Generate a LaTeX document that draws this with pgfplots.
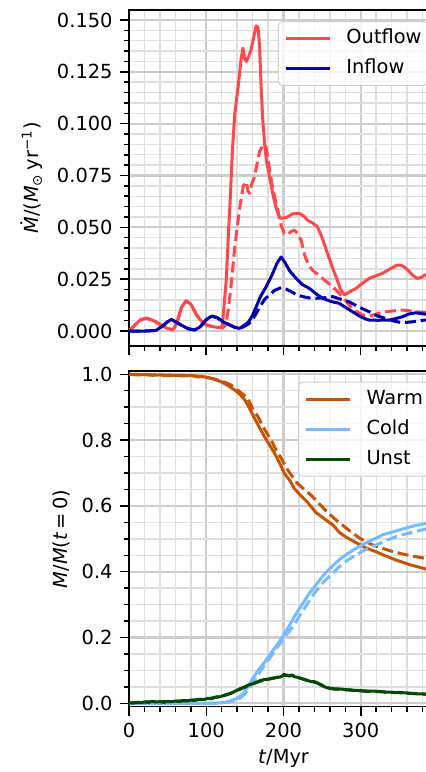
\documentclass[border=0pt]{standalone}
\usepackage{fontspec}
\setmainfont{DejaVu Sans}
\usepackage{pgfplots}
\pgfplotsset{compat=1.18}

\definecolor{outc}{HTML}{FF474C}
\definecolor{inc}{HTML}{0504AA}
\definecolor{warmc}{HTML}{C45508}
\definecolor{coldc}{HTML}{75BBFD}
\definecolor{unstc}{HTML}{054907}
\definecolor{gridmaj}{HTML}{CDCDCD}
\definecolor{gridmin}{HTML}{DEDEDE}
\definecolor{legedge}{HTML}{D0D0D0}

\newcommand\fs{\fontsize{9.7}{11.6}\selectfont}

\pgfplotsset{
  panel/.style={
    scale only axis, width=154.5pt,
    xmin=0, xmax=400,
    axis line style={line width=0.75pt},
    tick align=outside, xtick pos=bottom, ytick pos=left,
    major tick length=4.7pt, minor tick length=2.6pt,
    tick style={black, line width=0.75pt},
    grid=both,
    major grid style={color=gridmaj, line width=1.1pt},
    minor grid style={color=gridmin, line width=0.7pt},
    xtick={0,100,200,300},
    minor xtick={20,40,60,80,120,140,160,180,220,240,260,280,320,340,360,380},
    tick label style={font=\fs},
    /pgf/number format/assume math mode=true,
    label style={font=\fs},
    legend cell align=left,
    legend style={anchor=north west, draw=legedge, line width=0.5pt,
      rounded corners=2pt, fill=white, fill opacity=0.8, text opacity=1,
      draw opacity=1, font=\fs, inner xsep=3pt, inner ysep=3.8pt, row sep=5.7pt,
      nodes={inner sep=0pt, text height=7.3pt, text depth=2pt}},
    legend image code/.code={\draw[#1] (0pt,0pt) -- (22pt,0pt); \path (29.5pt,0pt);},
  },
  sol/.style={line width=1.5pt, line join=round},
  dsh/.style={line width=1.5pt, line join=round, dash pattern=on 5.5pt off 2.4pt, forget plot},
}

\begin{document}
\begin{tikzpicture}
\useasboundingbox (0,0) rectangle (213pt,386pt);
\clip (0,0) rectangle (213pt,386pt);

% mass flow rates
\begin{axis}[panel, height=168pt, at={(64.5pt,213pt)}, anchor=south west,
  ymin=-0.0072, ymax=0.1548,
  ytick={0,0.025,0.05,0.075,0.1,0.125,0.15},
  yticklabels={0.000,0.025,0.050,0.075,0.100,0.125,0.150},
  minor y tick num=4, xticklabels={},
  ylabel={\textit{Ṁ}/(\textit{M}\textsubscript{⊙}\,yr\textsuperscript{−1})},
  ylabel style={at={(axis description cs:-0.314,0.5)}, anchor=center},
  legend style={at={(axis description cs:0.482,0.967)}},
]
\addplot[sol, outc] coordinates {
(0,0) (8,0.003) (15,0.0055) (23,0.0062) (32,0.005) (42,0.0028) (50,0.0012)
(57,0.0006) (62,0.004) (68,0.0115) (74,0.0146) (80,0.013) (88,0.0075)
(96,0.0037) (104,0.0025) (113,0.0018) (119,0.0018) (121,0.003) (123,0.012)
(126,0.025) (129,0.049) (131,0.063) (134,0.088) (137,0.105) (141,0.117)
(145,0.1307) (147.5,0.1364) (150,0.131) (152,0.130) (155,0.1325) (158,0.1355)
(161,0.141) (164.7,0.1471) (167,0.1465) (169,0.138) (171,0.118) (173,0.103)
(175.5,0.0905) (178,0.082) (182,0.0744) (186,0.0664) (190,0.060) (195,0.0544)
(199,0.0544) (205,0.055) (212,0.0565) (220,0.0568) (226,0.0555) (231,0.0535)
(238,0.052) (244,0.0503) (250,0.045) (257,0.0375) (263,0.031) (268,0.0262)
(274,0.020) (279,0.0174) (286,0.019) (294,0.0206) (302,0.023) (311,0.0254)
(320,0.0267) (328,0.0278) (338,0.030) (347,0.0318) (352,0.0317) (356,0.031)
(362,0.029) (367,0.027) (373,0.0254) (378,0.0258) (383,0.027) (392,0.028) (400,0.028)
};
\addlegendentry{Outflow}
\addplot[dsh, outc] coordinates {
(0,0) (8,0.003) (15,0.0055) (23,0.0062) (32,0.005) (42,0.0028) (50,0.0012)
(57,0.0006) (62,0.004) (68,0.0115) (74,0.0146) (80,0.013) (88,0.0075)
(96,0.0037) (104,0.0025) (113,0.0018) (121,0.0015) (125,0.003) (128,0.009)
(131,0.018) (133,0.025) (136,0.037) (140,0.050) (144,0.061) (148,0.070)
(151.8,0.072) (154,0.0675) (156,0.0664) (159,0.071) (162.6,0.0744) (166,0.081)
(169,0.0865) (173,0.0893) (176.8,0.0897) (179,0.085) (182,0.0777) (185,0.071)
(188.4,0.0648) (192.7,0.058) (197,0.051) (201,0.047) (205,0.0465) (210,0.048)
(214,0.0487) (218,0.047) (222.8,0.0439) (227,0.037) (231.4,0.0327) (236,0.030)
(240,0.0286) (247,0.0265) (253,0.0246) (263.6,0.0214) (270,0.019) (276.5,0.0165)
(285,0.0125) (294,0.0095) (302,0.0078) (311,0.0072) (320,0.0082) (332,0.0093)
(344,0.0098) (354,0.0101) (362,0.0098) (371,0.0093) (383,0.009) (400,0.009)
};
\addplot[sol, inc] coordinates {
(0,0) (20,0) (35,0.0003) (42,0.002) (50,0.0045) (55,0.0056) (60,0.0045)
(68,0.0028) (76,0.0012) (85,0.0005) (92,0.002) (100,0.0055) (107,0.0072)
(114,0.0065) (121.7,0.0045) (130,0.003) (137,0.0018) (143,0.0013) (148,0.0025)
(155,0.0045) (160,0.0077) (165,0.012) (170,0.0165) (177.6,0.0214) (185,0.027)
(192,0.033) (197,0.0357) (202,0.033) (208,0.029) (216.4,0.0254) (224,0.0225)
(233.5,0.0206) (242,0.018) (250.7,0.0158) (262,0.0142) (272,0.0134) (280,0.0115)
(289.4,0.0093) (298,0.0073) (305,0.006) (311,0.0053) (322,0.0052) (336.8,0.0053)
(345,0.006) (354,0.0069) (362,0.0082) (371,0.0088) (383,0.0082) (400,0.008)
};
\addlegendentry{Inflow}
\addplot[dsh, inc] coordinates {
(0,0) (20,0) (35,0.0003) (42,0.002) (50,0.0045) (55,0.0056) (60,0.0045)
(68,0.0028) (76,0.0012) (85,0.0005) (92,0.002) (100,0.0055) (107,0.0072)
(114,0.0065) (121.7,0.0045) (130,0.003) (137,0.0018) (143,0.0013) (148,0.002)
(155,0.0035) (160,0.0055) (164.7,0.0085) (170,0.012) (176,0.0155) (182,0.0174)
(188,0.0195) (197,0.021) (203,0.0203) (210,0.019) (217,0.0175) (225,0.0166)
(233,0.016) (242,0.0158) (252,0.016) (263.6,0.0166) (272,0.0156) (285,0.0141)
(298,0.0115) (311,0.0093) (322,0.0072) (332.5,0.0061) (343,0.0048) (354,0.004)
(368,0.0045) (383,0.0053) (400,0.0055)
};
\end{axis}

% gas phase mass fractions
\begin{axis}[panel, height=167.85pt, at={(64.5pt,32.65pt)}, anchor=south west,
  ymin=-0.0103, ymax=1.0100,
  ytick={0,0.2,0.4,0.6,0.8,1.0},
  yticklabels={0.0,0.2,0.4,0.6,0.8,1.0},
  minor y tick num=3,
  xticklabels={0,100,200,300},
  xlabel={\textit{t}/Myr},
  xlabel style={at={(axis description cs:0.5,-0.153)}, anchor=center},
  ylabel={\textit{M}/\textit{M}(\textit{t}\,=\,0)},
  ylabel style={at={(axis description cs:-0.22,0.5)}, anchor=center},
  legend style={at={(axis description cs:0.547,0.968)}},
]
\addplot[sol, warmc] coordinates {
(0,1.0) (10,0.998) (20,0.999) (30,0.997) (40,0.998) (50,0.996) (60,0.997)
(70,0.995) (81,0.996) (90,0.992) (95,0.993) (102,0.99) (110,0.985)
(119.6,0.977) (128,0.966) (137,0.952) (144,0.938) (150,0.922) (156,0.897)
(162.6,0.866) (169,0.838) (175.5,0.81) (182,0.785) (188.4,0.76) (195,0.73)
(201,0.699) (207.7,0.679) (214,0.653) (222,0.632) (231.4,0.61) (242,0.58)
(255,0.557) (265,0.54) (272,0.52) (281,0.505) (298,0.483) (308,0.471)
(319.6,0.461) (330,0.45) (345,0.436) (362.6,0.422) (383,0.409) (400,0.4)
};
\addlegendentry{Warm}
\addplot[dsh, warmc] coordinates {
(0,1.0) (20,0.999) (40,0.998) (60,0.997) (81,0.996) (95,0.993) (102,0.99)
(110,0.986) (118,0.98) (125,0.975) (132.5,0.967) (140,0.953) (147,0.94)
(154,0.927) (160,0.895) (167,0.871) (175,0.835) (184,0.80) (190,0.772)
(197,0.745) (203,0.718) (210,0.694) (218,0.668) (227,0.65) (236,0.632)
(245,0.61) (255,0.585) (268,0.557) (280,0.535) (289.4,0.517) (298,0.503)
(306.7,0.491) (317,0.48) (328,0.471) (340,0.462) (354,0.454) (368,0.447)
(383,0.441) (400,0.436)
};
\addplot[sol, coldc] coordinates {
(0,0) (100,0.0) (115,0.001) (124,0.003) (132,0.008) (141,0.016) (148,0.03)
(154,0.05) (160,0.075) (167,0.1) (175.5,0.125) (186,0.16) (197,0.195)
(205.6,0.228) (212,0.255) (218.5,0.28) (225,0.304) (233,0.333) (242,0.36)
(252,0.39) (263.6,0.418) (274,0.44) (285,0.458) (296,0.474) (306.7,0.488)
(318,0.5) (328,0.512) (340,0.52) (350,0.527) (365,0.537) (383,0.546) (400,0.552)
};
\addlegendentry{Cold}
\addplot[dsh, coldc] coordinates {
(0,0) (110,0) (124,0.002) (134,0.006) (143,0.014) (150,0.028) (156,0.045)
(163,0.072) (170,0.097) (180,0.13) (190,0.163) (200,0.197) (212,0.232)
(222,0.27) (231.4,0.304) (240,0.335) (250.7,0.365) (262,0.392) (272.3,0.415)
(283,0.435) (293.8,0.451) (306,0.467) (319.6,0.481) (332,0.494) (345,0.506)
(360,0.516) (383,0.529) (400,0.537)
};
\addplot[sol, unstc] coordinates {
(0,0.002) (5,0.001) (10,0.003) (15,0.002) (20,0.004) (25,0.003) (30,0.006)
(35,0.004) (40,0.005) (45,0.003) (50,0.006) (55,0.005) (60,0.007) (65,0.006)
(70,0.008) (75,0.007) (81,0.010) (85,0.009) (90,0.012) (96,0.011) (102,0.015)
(107,0.014) (112,0.019) (118,0.020) (124,0.025) (130,0.029) (135,0.034)
(140,0.040) (145,0.046) (150,0.050) (155,0.056) (161,0.060) (167,0.066)
(171,0.070) (175,0.072) (180,0.073) (184,0.076) (188,0.077) (192,0.079)
(196,0.080) (198,0.083) (201,0.088) (203,0.084) (205,0.085) (208,0.083)
(210,0.086) (214,0.081) (218,0.079) (222,0.076) (226,0.073) (230,0.07)
(236,0.066) (240,0.066) (242,0.064) (245,0.060) (248,0.056) (252,0.051)
(257,0.047) (261,0.046) (265,0.044) (270,0.044) (276,0.043) (281,0.041)
(286,0.041) (291,0.039) (296,0.039) (303,0.038) (310,0.037) (318,0.037)
(325,0.036) (332,0.034) (339,0.034) (345,0.033) (350,0.033) (356,0.032)
(362,0.031) (367,0.030) (372,0.029) (378,0.029) (383,0.028) (400,0.027)
};
\addlegendentry{Unst}
\addplot[dsh, unstc] coordinates {
(0,0.001) (10,0.002) (20,0.004) (30,0.005) (40,0.005) (50,0.005) (60,0.006)
(70,0.008) (81,0.009) (90,0.011) (102,0.014) (112,0.018) (124,0.024)
(135,0.033) (145,0.044) (155,0.055) (167,0.065) (175,0.071) (184,0.075)
(192,0.079) (198,0.082) (203,0.086) (207,0.084) (212,0.085) (216,0.080)
(224,0.075) (232,0.069) (238,0.065) (244,0.062) (250,0.055) (259,0.046)
(267,0.043) (278,0.042) (288,0.040) (298,0.038) (312,0.036) (327,0.035)
(341,0.033) (352,0.032) (364,0.030) (374,0.029) (383,0.028) (400,0.027)
};
\end{axis}
\end{tikzpicture}
\end{document}
